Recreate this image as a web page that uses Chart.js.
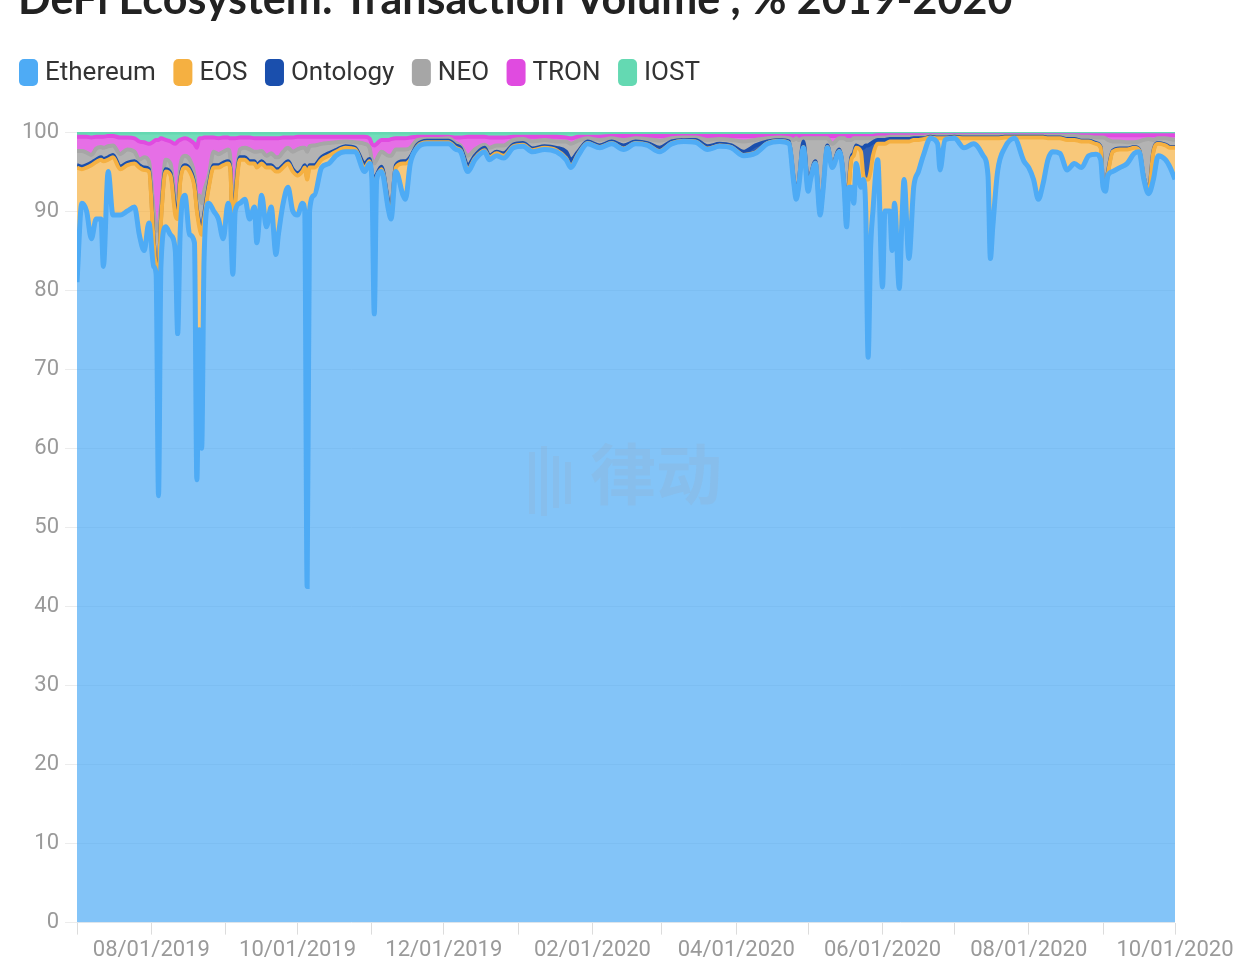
<!DOCTYPE html>
<html><head><meta charset="utf-8">
<script src="https://cdn.jsdelivr.net/npm/chart.js@4.4.1/dist/chart.umd.min.js"></script>
<style>
html,body{margin:0;padding:0;background:#fff;overflow:hidden;width:1254px;height:962px;}
#wrap{position:absolute;left:0;top:0;width:1254px;height:967px;}
</style></head><body>
<div id="wrap"><canvas id="c"></canvas></div>
<script>
const chartTitle = 'DeFi Ecosystem: Transaction Volume , % 2019-2020';
const seriesNames = ['Ethereum', 'EOS', 'Ontology', 'NEO', 'TRON', 'IOST'];
// day index counted from 07/01/2019
const days = [0,2,4,6,8,10,11,13,15,18, 21,24,26,28,30,32,33,34,35,37, 39,41,42,43,45,47,49,50,51,52,
 53,55,57,59,61,63,64,65,66,68, 70,72,74,75,77,79,81,83,84,86, 88,90,92,94,95,96,97,99,102,105,
 108,112,116,120,122,123,124,125,127,130, 131,133,136,137,139,142,146,150,155,158, 160,163,166,170,172,175,178,182,186,190,
 195,200,204,206,209,213,218,223,228,233, 238,243,248,253,258,263,268,273,278,283, 288,293,297,299,300,301,303,305,306,308,
 310,311,313,315,318,320,321,322,323,324, 325,327,328,329,330,331,332,334,336,337, 339,340,341,343,344,345,347,349,351,353,
 356,359,360,362,366,370,374,378,380,381, 382,384,387,391,395,397,399,401,403,405, 407,410,413,416,419,422,425,427,428,429,
 430,432,435,438,441,443,445,447,449,451, 454,456,458];
const ethereum = [81,91,90,86.5,89,89,83,95,89.5,89.5, 90,90.5,87,85,88.5,83,82,54,83,88, 87,85,74.5,87,92,87,86,56,75,60,
 84,91,90,89,86.5,91,89,82,90,91, 91.5,89,90.5,86,92,88,90.5,84.5,87,91, 93,90,89.5,91,90,42.5,90,92,95.5,96,
 97,97.5,97.5,95,96,94,77,94,95,90, 89,95,92,91.5,96,98,98.5,98.5,98.5,97.8, 97.5,95,96.5,97.5,96.5,97,96.7,98,98.2,97.5,
 97.8,97.5,96.5,95.5,97,98.5,98,98.5,97.8,98.5, 98.3,97.5,98.5,98.8,98.7,97.8,98.2,98,97,97.3, 98.5,98.8,98.5,93.5,91.5,93,98,92.5,94,96,
 89.5,92,98,95.5,97.5,93,88,93,93,91, 96,93,94,90,71.5,85,90,96.5,80.4,90, 90,85,91,80.2,88,94,84,93,95,97,
 99.2,98.5,95.2,99,99.2,98,98.5,97,94.5,84, 88,95,98,99.2,96.3,95.5,94,91.5,93.5,96.5, 97.5,97.3,95.2,96,95.5,97,97.2,96.5,93,92.5,
 94.5,95,95.5,96,97.3,97.5,94,92.2,94,97, 96.5,95.5,94];
const eos = [14.5,4.3,5.5,9.3,7.2,7.5,13.3,1.5,7.3,5.8, 5.8,5.5,8.5,10.2,6.5,3,0.5,28,5.5,7, 7.5,4.5,14.5,6.5,3.5,8,7,34,13,27,
 5,2,5.5,6.5,9.3,5,6,4,1,5.5, 5,7,5.5,9.5,4,7.5,5,10.5,8,4.5, 3,5,5,4,5.5,51.5,5.5,3.5,1,1,
 0.5,0.5,0.3,0.5,0.3,0.3,16.5,0.3,0.3,0.5, 1,0.5,4,4.5,0.5,0.2,0.2,0.2,0.2,0.2, 0.2,0.3,0.2,0.2,0.3,0.3,0.3,0.2,0.2,0.2,
 0.2,0.2,0.2,0.2,0.2,0.1,0.1,0.1,0.1,0.1, 0.1,0.1,0.1,0.1,0.1,0.1,0.1,0.1,0.1,0.1, 0.1,0.1,0.1,0.1,0.1,0.1,0.1,0.1,0.1,0.1,
 0.1,0.1,0.1,0.1,0.1,0.1,0.1,0.2,3.5,6, 2,4.5,0.5,4,22.5,10,7,2,18.1,8.5, 8.8,13.8,7.8,18.6,10.8,4.8,14.8,6,4,2.1,
 0.1,0.7,4,0.2,0.1,1.2,0.7,2.2,4.7,15.2, 11.2,4.2,1.3,0.1,3,3.8,5.3,7.8,5.8,2.7, 1.7,1.9,3.8,3,3.3,1.8,1.3,1.5,0.2,0.2,
 0.2,2.5,2.3,1.8,0.7,0.2,0.2,0.2,3.5,1.5, 1.8,2.5,4];
const ontology = [0.3,0.3,0.3,0.3,0.3,0.3,0.3,0.3,0.3,0.3, 0.3,0.3,0.3,0.3,0.3,0.3,0.5,0.5,0.3,0.3, 0.3,0.7,0.5,0.3,0.3,0.3,0.3,0.3,0.5,0.5,
 0.5,0.3,0.3,0.3,0.3,0.3,0.3,0.5,0.5,0.3, 0.3,0.3,0.3,0.3,0.3,0.3,0.3,0.3,0.3,0.3, 0.3,0.3,0.3,0.3,0.3,0.3,0.3,0.3,0.3,0.3,
 0.2,0.2,0.2,0.5,0.3,0.5,0.5,0.3,0.3,0.5, 0.5,0.3,0.3,0.3,0.3,0.2,0.2,0.2,0.2,0.3, 0.3,0.5,0.3,0.3,0.2,0.2,0.3,0.2,0.2,0.2,
 0.2,0.3,0.8,0.8,0.3,0.2,0.2,0.2,0.4,0.2, 0.2,0.4,0.2,0.1,0.2,0.3,0.2,0.2,0.4,0.9, 0.2,0.1,0.2,0.4,0.7,0.4,0.7,0.9,0.4,0.2,
 0.7,0.2,0.2,0.2,0.2,0.4,0.4,0.3,0.3,0.3, 0.3,0.5,3.5,4.3,4.3,3.5,1.7,0.5,0.5,0.5, 0.3,0.3,0.3,0.3,0.3,0.3,0.3,0.2,0.2,0.1,
 0.1,0.1,0.1,0.1,0.1,0.1,0.1,0.1,0.1,0.1, 0.1,0.1,0.1,0.1,0.1,0.1,0.1,0.1,0.1,0.1, 0.1,0.1,0.1,0.1,0.1,0.1,0.1,0.1,0.2,0.2,
 0.2,0.1,0.1,0.1,0.1,0.1,0.1,0.1,0.1,0.1, 0.1,0.1,0.1];
const neo = [1.8,2.0,1.6,1.0,1.4,1.3,1.4,1.4,1.2,1.6, 1.7,1.2,0.7,1.3,1.0,3.7,4.5,5.5,1.7,1.2, 1.2,1.3,1.5,1.7,1.2,1.2,1.2,1.2,3.5,3.5,
 3,1.2,1.7,1.4,1.4,1.5,1.2,2,1.5,1.0, 1.2,1.5,1.2,1.7,1.3,1.2,1.5,1.5,1.5,1.7, 1.7,2.2,3,2.7,2.2,3.2,2.4,2.5,1.7,1.3,
 1.0,0.6,0.7,2.5,1.4,1.7,2,1.9,1.9,6, 6.5,2,1.5,1.5,1.2,0.6,0.2,0.2,0.3,0.3, 0.3,1.2,0.8,0.4,1.0,0.8,1.0,0.6,0.5,0.9,
 0.8,0.8,1.3,2.0,1.4,0.4,0.7,0.4,0.7,0.4, 0.5,0.9,0.4,0.3,0.3,0.8,0.6,0.7,1.3,0.7, 0.4,0.3,0.4,5.0,6.9,5.5,0.4,5.7,4.7,2.9,
 8.9,6.9,0.9,2.7,1.4,5.7,10.5,5.5,2.2,1.9, 0.9,1.2,1.2,0.9,0.9,0.7,0.5,0.3,0.3,0.3, 0.3,0.3,0.3,0.3,0.3,0.3,0.3,0.2,0.2,0.2,
 0.1,0.2,0.2,0.2,0.1,0.2,0.2,0.2,0.2,0.2, 0.2,0.2,0.1,0.1,0.1,0.1,0.1,0.1,0.1,0.2, 0.2,0.2,0.4,0.4,0.5,0.5,0.7,1.2,5.9,6.3,
 4.1,1.2,0.9,0.8,0.6,1.0,4.7,6.6,1.4,0.6, 0.8,1.0,0.9];
const tron = [1.8,1.8,2.0,2.2,1.5,1.3,1.4,1.3,1.2,2.1, 1.5,1.7,2.3,1.9,2.2,8.8,11.5,11,8.7,2.5, 2.8,7,7.8,3.5,2.2,2.5,4,6.5,7.2,8.2,
 6.8,4.8,1.8,2.0,1.8,1.5,2.7,10.7,6.2,1.5, 1.3,1.5,1.7,1.7,1.6,2.2,1.9,2.4,2.4,1.8, 1.3,1.8,1.6,1.4,1.4,1.9,1.2,1.1,0.9,0.8,
 0.7,0.6,0.7,0.9,1.2,2.0,2.3,2.0,1.5,2, 2.1,1.4,1.4,1.4,1.3,0.4,0.3,0.3,0.2,0.7, 1.0,2.4,1.6,1.0,1.3,1.0,1.0,0.4,0.3,0.6,
 0.4,0.6,0.5,0.7,0.5,0.2,0.4,0.3,0.5,0.3, 0.4,0.6,0.3,0.2,0.2,0.5,0.4,0.5,0.7,0.5, 0.3,0.2,0.3,0.5,0.3,0.5,0.3,0.3,0.3,0.3,
 0.3,0.3,0.3,1.0,0.3,0.3,0.5,0.5,0.5,0.3, 0.3,0.3,0.3,0.3,0.3,0.3,0.3,0.3,0.3,0.3, 0.2,0.2,0.2,0.2,0.2,0.2,0.2,0.2,0.2,0.2,
 0.1,0.1,0.1,0.1,0.1,0.1,0.1,0.1,0.1,0.1, 0.1,0.1,0.1,0.1,0.1,0.1,0.1,0.1,0.1,0.1, 0.1,0.1,0.1,0.1,0.2,0.2,0.3,0.3,0.3,0.4,
 0.6,0.8,0.8,0.9,0.9,0.8,0.6,0.5,0.6,0.4, 0.4,0.5,0.6];
const iost = [0.6,0.6,0.6,0.7,0.6,0.6,0.6,0.5,0.5,0.7, 0.7,0.8,1.2,1.3,1.5,1.2,1.0,1.0,0.8,1.0, 1.2,1.5,1.2,1.0,0.8,1.0,1.5,2.0,0.8,0.8,
 0.7,0.7,0.7,0.8,0.7,0.7,0.8,0.8,0.8,0.7, 0.7,0.7,0.8,0.8,0.8,0.8,0.8,0.8,0.8,0.7, 0.7,0.7,0.6,0.6,0.6,0.6,0.6,0.6,0.6,0.6,
 0.6,0.6,0.6,0.6,0.8,1.5,1.7,1.5,1.0,1.0, 0.9,0.8,0.8,0.8,0.7,0.6,0.6,0.6,0.6,0.7, 0.7,0.6,0.6,0.6,0.7,0.7,0.7,0.6,0.6,0.6,
 0.6,0.6,0.7,0.8,0.6,0.6,0.6,0.5,0.5,0.5, 0.5,0.5,0.5,0.5,0.5,0.5,0.5,0.5,0.5,0.5, 0.5,0.5,0.5,0.5,0.5,0.5,0.5,0.5,0.5,0.5,
 0.5,0.5,0.5,0.5,0.5,0.5,0.5,0.5,0.5,0.5, 0.5,0.5,0.5,0.5,0.5,0.5,0.5,0.4,0.4,0.4, 0.4,0.4,0.4,0.4,0.4,0.4,0.4,0.4,0.4,0.4,
 0.4,0.4,0.4,0.4,0.4,0.4,0.4,0.4,0.4,0.4, 0.4,0.4,0.4,0.4,0.4,0.4,0.4,0.4,0.4,0.4, 0.4,0.4,0.4,0.4,0.4,0.4,0.4,0.4,0.4,0.4,
 0.4,0.4,0.4,0.4,0.4,0.4,0.4,0.4,0.4,0.4, 0.4,0.4,0.4];
const monthDays = [0,31,62,92,123,153,184,215,244,275,305,336,366,397,428,458];
const tickLabels = ['', '08/01/2019', '', '10/01/2019', '', '12/01/2019', '', '02/01/2020', '', '04/01/2020', '', '06/01/2020', '', '08/01/2020', '', '10/01/2020'];

const seriesValues = [ethereum, eos, ontology, neo, tron, iost];
const lineColors = ['#4eabf5', '#f5b041', '#1a4fad', '#a6a6a6', '#e04be0', '#64d9b2'];
const fillColors = ['rgba(78,171,245,0.7)', 'rgba(245,176,65,0.7)', 'rgba(26,79,173,0.9)', 'rgba(160,160,160,0.8)', 'rgba(224,75,224,0.8)', 'rgba(100,217,178,0.9)'];

Chart.defaults.font.family = 'Roboto, "Noto Sans", sans-serif';

const titlePlugin = {
  id: 'topTitle',
  beforeDraw(chart) {
    const ctx = chart.ctx;
    ctx.save();
    ctx.font = 'bold 43px Lato, "Noto Sans", sans-serif';
    ctx.fillStyle = '#222222';
    ctx.textBaseline = 'alphabetic';
    ctx.textAlign = 'left';
    ctx.fillText(chartTitle, 18, 14);
    ctx.restore();
  }
};
const legendPlugin = {
  id: 'topLegend',
  afterDraw(chart) {
    const ctx = chart.ctx;
    ctx.save();
    ctx.font = '26px Roboto, "Noto Sans", sans-serif';
    ctx.textBaseline = 'middle';
    ctx.textAlign = 'left';
    let x = 19;
    seriesNames.forEach((name, i) => {
      ctx.fillStyle = lineColors[i];
      ctx.beginPath();
      if (ctx.roundRect) { ctx.roundRect(x, 59, 19, 27, 5); } else { ctx.rect(x, 59, 19, 27); }
      ctx.fill();
      ctx.fillStyle = '#333333';
      ctx.fillText(name, x + 26, 73);
      x += 26 + ctx.measureText(name).width + 17.5;
    });
    ctx.restore();
  }
};
const watermark = {
  id: 'watermark',
  afterDatasetsDraw(chart) {
    const ctx = chart.ctx;
    ctx.save();
    ctx.fillStyle = 'rgba(150,170,190,0.22)';
    const bars = [[529, 452, 6, 62], [541, 446, 6, 70], [553, 456, 6, 52], [565, 462, 6, 42]];
    bars.forEach(b => ctx.fillRect(b[0], b[1], b[2], b[3]));
    ctx.font = 'bold 66px "Noto Sans CJK SC", sans-serif';
    ctx.textBaseline = 'middle';
    ctx.fillText('律动', 590, 474);
    ctx.restore();
  }
};

new Chart(document.getElementById('c'), {
  type: 'line',
  data: {
    datasets: seriesNames.map((name, i) => ({
      label: name,
      data: days.map((d, k) => ({ x: d, y: seriesValues[i][k] })),
      borderColor: lineColors[i],
      backgroundColor: fillColors[i],
      fill: i === 0 ? 'origin' : '-1',
      borderWidth: i === 0 ? 5 : (i === 5 ? 5 : 4),
      pointRadius: 0,
      pointHoverRadius: 0,
      cubicInterpolationMode: 'monotone'
    }))
  },
  options: {
    responsive: true,
    maintainAspectRatio: false,
    animation: false,
    devicePixelRatio: 1,
    layout: { padding: { top: 132, left: 11, right: 79, bottom: 0 } },
    plugins: {
      title: { display: false },
      tooltip: { enabled: false },
      legend: { display: false }
    },
    scales: {
      x: {
        type: 'linear', min: 0, max: 458,
        afterBuildTicks(axis) { axis.ticks = monthDays.map(v => ({ value: v })); },
        ticks: {
          autoSkip: false, maxRotation: 0, padding: 3, color: '#9a9a9a', font: { size: 22 },
          callback(v) { const k = monthDays.indexOf(v); return k >= 0 ? tickLabels[k] : ''; }
        },
        grid: { drawOnChartArea: false, tickLength: 12, color: '#dcdcdc' },
        border: { display: false }
      },
      y: {
        stacked: true, min: 0, max: 100,
        ticks: { stepSize: 10, color: '#9a9a9a', font: { size: 22 }, padding: 6 },
        grid: { color: '#ececec', tickLength: 12 },
        border: { display: false },
        afterFit(axis) { axis.width = 66; }
      }
    }
  },
  plugins: [titlePlugin, legendPlugin, watermark]
});
</script>
</body></html>
